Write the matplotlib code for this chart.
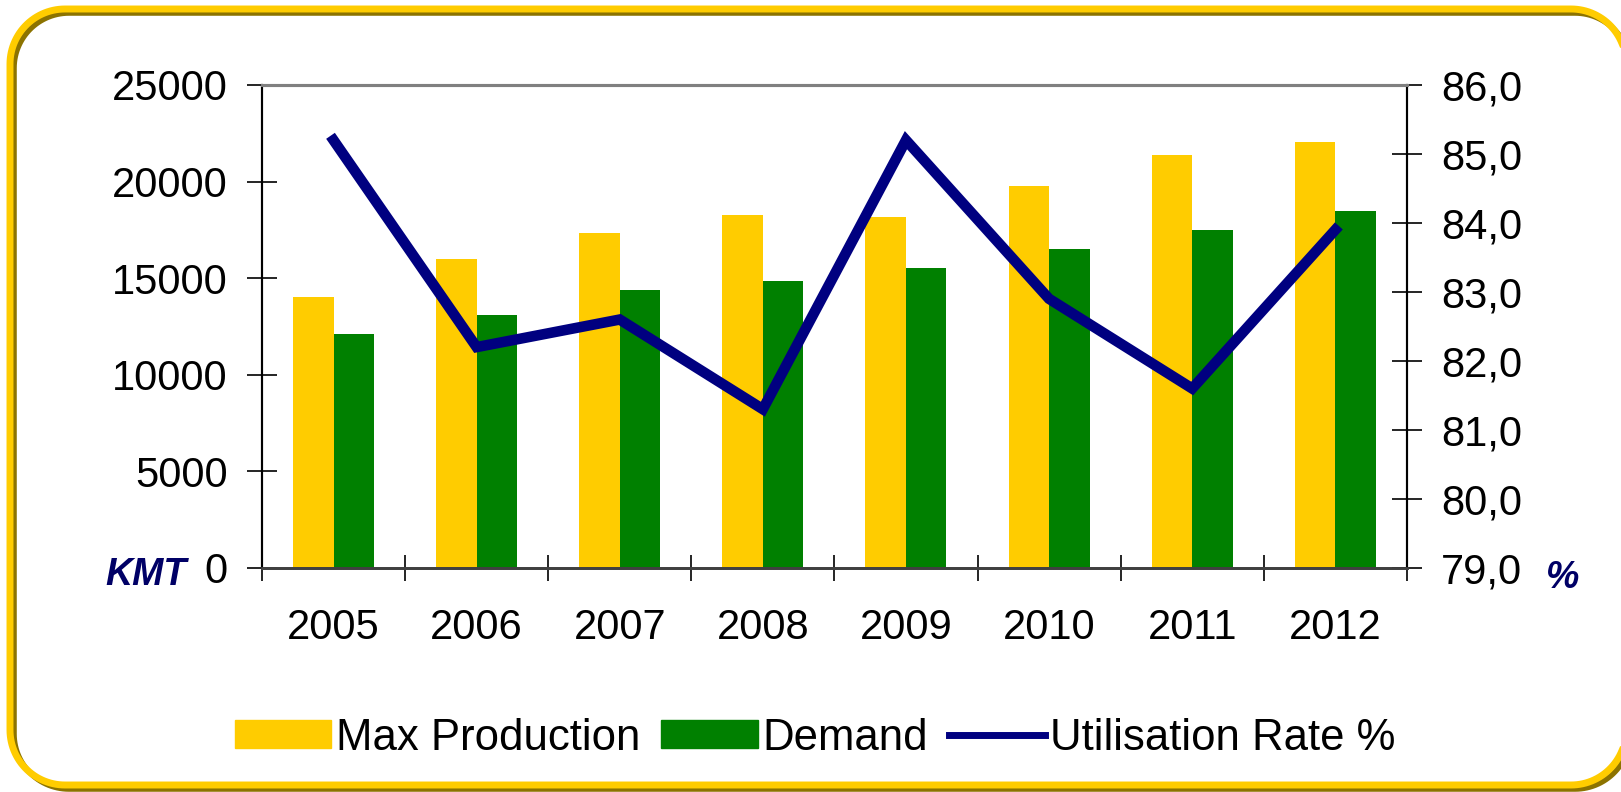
import matplotlib
matplotlib.use('Agg')
import matplotlib.pyplot as plt
from matplotlib.patches import Patch
from matplotlib.lines import Line2D
from matplotlib.transforms import IdentityTransform
from matplotlib.ticker import FixedLocator, FuncFormatter
import numpy as np

plt.rcParams['font.family'] = ['Liberation Sans', 'DejaVu Sans']

# data
years = ['2005', '2006', '2007', '2008', '2009', '2010', '2011', '2012']
max_production = [14000, 16000, 17350, 18250, 18150, 19750, 21400, 22050]
demand = [12100, 13100, 14400, 14850, 15500, 16500, 17500, 18500]
utilisation = [85.2, 82.2, 82.6, 81.3, 85.2, 82.9, 81.6, 83.9]

c_yellow = '#FFCC00'
c_green = '#008000'
c_navy = '#000080'
c_label = '#000066'


def rounded_rect(x0, y0, x1, y1, r, n=30):
    # closed outline made of straight pieces and circular corners (pixel coords)
    pts = []
    corners = [(x1 - r, y1 - r, 0), (x0 + r, y1 - r, 90), (x0 + r, y0 + r, 180), (x1 - r, y0 + r, 270)]
    for cx, cy, a0 in corners:
        t = np.radians(np.linspace(a0, a0 + 90, n))
        pts += list(zip(cx + r * np.cos(t), cy + r * np.sin(t)))
    pts.append(pts[0])
    return np.array(pts)


fig = plt.figure(figsize=(16.21, 7.92), dpi=100)
ax = fig.add_axes([0.1616, 0.283, 0.8679 - 0.1616, 0.8927 - 0.283])
ax2 = ax.twinx()

x = np.arange(len(years))
w = 0.283
ax.bar(x, max_production, width=-w, align='edge', color=c_yellow, zorder=2)
ax.bar(x, demand, width=w, align='edge', color=c_green, zorder=2)
ax2.plot(x, utilisation, color=c_navy, lw=7.6, solid_joinstyle='miter')

ax.set_xlim(-0.5, len(years) - 0.5)
ax.set_ylim(0, 25000)
ax2.set_ylim(79, 86)

ax.set_yticks(np.arange(0, 25001, 5000))
ax2.set_yticks(np.arange(79, 86.1, 1))
ax2.yaxis.set_major_formatter(FuncFormatter(lambda v, p: ('%.1f' % v).replace('.', ',')))

# category boundary ticks, labels at centres
ax.xaxis.set_major_locator(FixedLocator(np.arange(-0.5, len(years), 1.0)))
ax.xaxis.set_major_formatter(FuncFormatter(lambda v, p: ''))
ax.xaxis.set_minor_locator(FixedLocator(x))
ax.set_xticklabels(years, minor=True)
ax.tick_params(axis='x', which='major', direction='inout', length=19, width=1.2, color='black')
ax.tick_params(axis='x', which='minor', length=0, pad=29, labelsize=30)

ax.tick_params(axis='y', direction='inout', length=21, width=1.2, pad=14, labelsize=30)
ax2.tick_params(axis='y', direction='inout', length=21, width=1.2, pad=14, labelsize=30)

for a in (ax, ax2):
    a.spines['top'].set_color('#808080')
    a.spines['top'].set_linewidth(2.2)
    a.spines['left'].set_color('black')
    a.spines['left'].set_linewidth(1.5)
    a.spines['right'].set_color('black')
    a.spines['right'].set_linewidth(1.5)
    a.spines['bottom'].set_color('#404040')
    a.spines['bottom'].set_linewidth(2)

fig.text(0.090, 0.274, 'KMT', fontsize=27, fontweight='bold', fontstyle='italic',
         color=c_label, ha='center', va='center')
fig.text(0.964, 0.270, '%', fontsize=27, fontweight='bold', fontstyle='italic',
         color=c_label, ha='center', va='center')

handles = [Patch(color=c_yellow), Patch(color=c_green), Line2D([0], [0], color=c_navy, lw=5)]
labels = ['Max Production', 'Demand', 'Utilisation Rate %']
fig.legend(handles, labels, loc='center', bbox_to_anchor=(0.503, 0.068), ncol=3,
           frameon=False, fontsize=31.5, handlelength=2.2, handleheight=0.6,
           handletextpad=0.12, columnspacing=0.47)

# gold frame with dark shadow offset down-right; right edge runs just past the canvas
sh = rounded_rect(14, 3, 1630, 779, 55)
fr = rounded_rect(10, 7, 1626, 783, 55)
fig.add_artist(Line2D(sh[:, 0], sh[:, 1], transform=IdentityTransform(), color='#8C7300', lw=4))
fig.add_artist(Line2D(fr[:, 0], fr[:, 1], transform=IdentityTransform(), color='#FFCC00', lw=5))

fig.savefig('out.png', dpi=100)
